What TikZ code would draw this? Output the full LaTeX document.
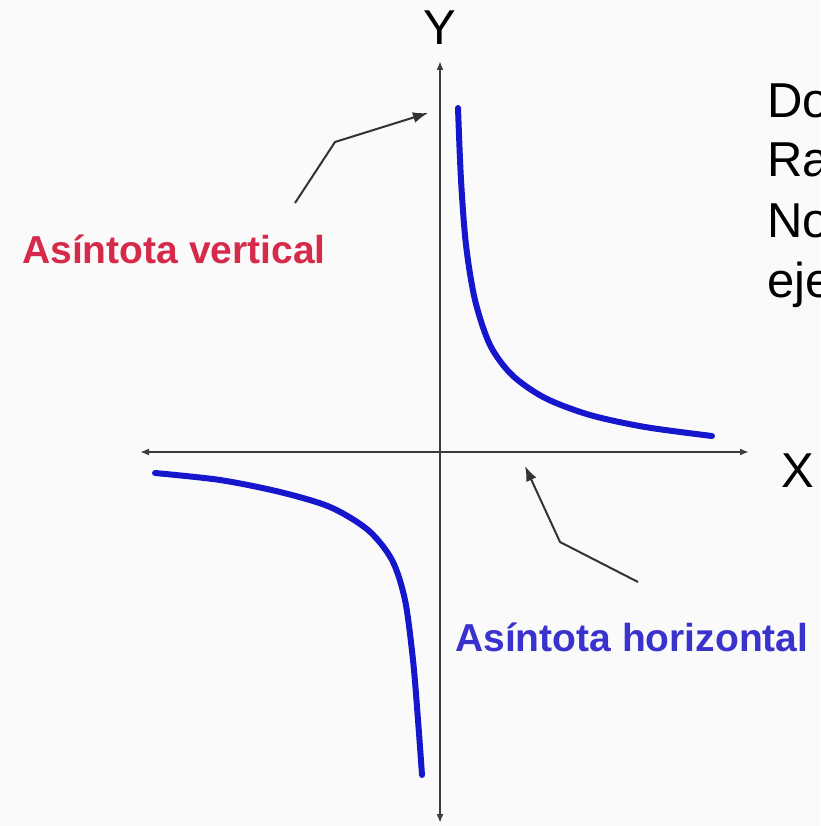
\documentclass[tikz,border=0pt]{standalone}
\usepackage{fontspec}
\setmainfont{Liberation Sans}
\usetikzlibrary{arrows.meta}
\definecolor{rojo}{RGB}{214,42,74}
\definecolor{azul}{RGB}{58,50,205}
\definecolor{trazo}{RGB}{22,22,205}
\definecolor{gris}{RGB}{60,60,60}
\definecolor{fondo}{RGB}{250,250,250}
\tikzset{
    ejes/.style={draw=gris, line width=1.8pt, {Latex[length=9pt,width=7pt]}-{Latex[length=9pt,width=7pt]}},
    flecha/.style={draw=black!80, line width=2pt, -{Latex[length=15pt,width=11pt]}},
    rama/.style={draw=trazo, line width=6pt, line cap=round},
    grande/.style={inner sep=0pt, font=\fontsize{49}{59}\selectfont},
    etiqueta/.style={inner sep=0pt, font=\fontsize{39}{47}\selectfont\bfseries}
}
\begin{document}
\begin{tikzpicture}[x=1pt, y=-1pt]
    \useasboundingbox (0,0) rectangle (820,826);
    \clip (0,0) rectangle (820,826);
    \fill[fondo] (0,0) rectangle (820,826);

    % ejes
    \coordinate (xizq) at (140,452);
    \coordinate (xder) at (749,452);
    \coordinate (yarr) at (440,61);
    \coordinate (yaba) at (440,823);
    \draw[ejes] (xizq) -- (xder);
    \draw[ejes] (yaba) -- (yarr);
    \node[grande, anchor=base] (ey) at (440,45) {Y};
    \node[grande, anchor=base] (ex) at (798,487) {X};

    % ramas de la hiperbola
    \draw[rama] plot[smooth] coordinates {(458,108) (461,180) (466,245) (475,300) (490,345) (512,375) (545,398) (590,415) (645,427) (712,436)};
    \draw[rama] plot[smooth] coordinates {(155,473) (220,480) (280,492) (330,507) (368,530) (392,560) (405,600) (413,660) (418,720) (422,775)};

    % texto de la derecha
    \foreach \t/\y in {Do/118, Ra/177, No/237, eje/297}
        \node[grande, anchor=base west] at (767,\y) {\t};

    % etiquetas
    \node[etiqueta, text=rojo, anchor=base west] (av) at (22,263) {Asíntota vertical};
    \node[etiqueta, text=azul, anchor=base west] (ah) at (455,651) {Asíntota horizontal};

    \coordinate (v0) at (295,203);
    \coordinate (v1) at (335,142);
    \coordinate (v2) at (428,113);
    \draw[flecha] (v0) -- (v1) -- (v2);
    \coordinate (h0) at (638,582);
    \coordinate (h1) at (560,542);
    \coordinate (h2) at (525,466);
    \draw[flecha] (h0) -- (h1) -- (h2);
\end{tikzpicture}
\end{document}
